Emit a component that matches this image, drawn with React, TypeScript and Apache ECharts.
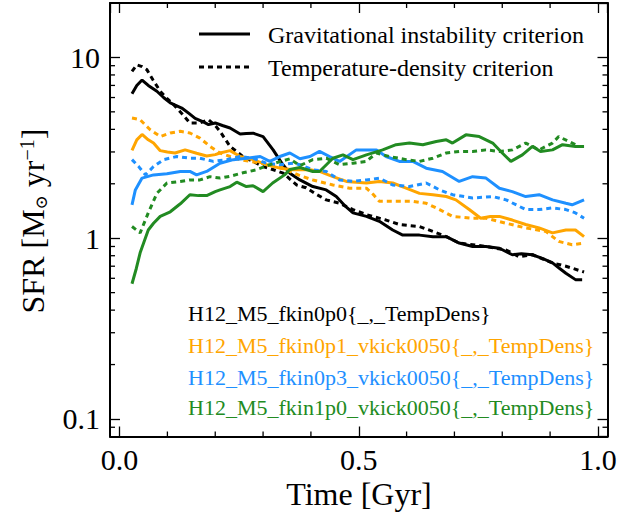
import React, { useEffect, useRef } from "react";
import * as echarts from "echarts";

// ---------- data (time in Gyr, SFR in Msun/yr) ----------
const xTickLabels = ["0.0", "0.5", "1.0"];
const xMajorValues = [0, 0.5, 1.0];
const yTickLabels = ["0.1", "1", "10"];
const xMinorTicks = [0.1, 0.2, 0.3, 0.4, 0.6, 0.7, 0.8, 0.9];
const yMinorTicks = [0.09, 0.2, 0.3, 0.4, 0.5, 0.6, 0.7, 0.8, 0.9, 2, 3, 4, 5, 6, 7, 8, 9];

const runLabels = [
  "H12_M5_fkin0p0{_,_TempDens}",
  "H12_M5_fkin0p1_vkick0050{_,_TempDens}",
  "H12_M5_fkin0p3_vkick0050{_,_TempDens}",
  "H12_M5_fkin1p0_vkick0050{_,_TempDens}",
];
const runColors = ["#000000", "#FFA500", "#1E90FF", "#228B22"];
const legendLabels = ["Gravitational instability criterion", "Temperature-density criterion"];

const fkin0p0Grav: [number, number][] = [
  [0.026, 6.3], [0.036, 7.0], [0.047, 7.5], [0.06, 7.0], [0.078, 6.5], [0.092, 6.0], [0.106, 5.6],
  [0.13, 5.25], [0.145, 4.9], [0.158, 4.6], [0.175, 4.4], [0.186, 4.25], [0.2, 4.34], [0.215, 4.2],
  [0.231, 4.07], [0.252, 3.77], [0.265, 3.8], [0.279, 3.81], [0.3, 3.65], [0.321, 3.08], [0.339, 2.6],
  [0.356, 2.29], [0.377, 2.1], [0.404, 1.93], [0.432, 1.85], [0.453, 1.7], [0.47, 1.52], [0.488, 1.38],
  [0.516, 1.32], [0.543, 1.24], [0.571, 1.11], [0.592, 1.04], [0.627, 1.04], [0.655, 1.02], [0.683, 1.02],
  [0.71, 0.94], [0.738, 0.9], [0.766, 0.9], [0.794, 0.88], [0.821, 0.81], [0.84, 0.82], [0.863, 0.81],
  [0.885, 0.77], [0.905, 0.73], [0.92, 0.68], [0.933, 0.64], [0.953, 0.59], [0.967, 0.59],
];
const fkin0p0Temp: [number, number][] = [
  [0.026, 8.37], [0.036, 9.1], [0.047, 8.9], [0.057, 8.56], [0.07, 7.5], [0.085, 6.5], [0.1, 5.9],
  [0.113, 5.48], [0.13, 4.9], [0.147, 4.34], [0.168, 4.34], [0.186, 4.52], [0.2, 4.2], [0.21, 3.9],
  [0.231, 3.22], [0.258, 2.83], [0.28, 2.65], [0.3, 2.49], [0.32, 2.4], [0.342, 2.29], [0.37, 1.97],
  [0.39, 1.9], [0.411, 1.75], [0.432, 1.63], [0.46, 1.56], [0.488, 1.44], [0.516, 1.35], [0.557, 1.26],
  [0.585, 1.19], [0.627, 1.16], [0.655, 1.09], [0.683, 1.02], [0.71, 0.94], [0.766, 0.9], [0.808, 0.86],
  [0.835, 0.79], [0.863, 0.81], [0.905, 0.73], [0.933, 0.7], [0.971, 0.65],
];
const fkin0p1Grav: [number, number][] = [
  [0.026, 3.06], [0.036, 3.5], [0.047, 3.75], [0.06, 3.5], [0.071, 3.36], [0.085, 3.05], [0.1, 3.0],
  [0.116, 2.96], [0.137, 3.08], [0.161, 2.95], [0.182, 2.85], [0.2, 2.9], [0.21, 2.96], [0.231, 3.05],
  [0.252, 2.83], [0.279, 2.72], [0.307, 2.55], [0.335, 2.44], [0.363, 2.39], [0.398, 2.39], [0.418, 2.34],
  [0.446, 2.19], [0.474, 2.06], [0.516, 2.02], [0.543, 2.06], [0.571, 2.02], [0.599, 1.89], [0.627, 1.77],
  [0.655, 1.74], [0.683, 1.7], [0.703, 1.63], [0.731, 1.44], [0.755, 1.29], [0.775, 1.32], [0.794, 1.32],
  [0.821, 1.26], [0.849, 1.19], [0.877, 1.14], [0.905, 1.07], [0.933, 1.11], [0.953, 1.11], [0.971, 1.02],
];
const fkin0p1Temp: [number, number][] = [
  [0.026, 4.62], [0.043, 4.52], [0.064, 3.98], [0.085, 3.65], [0.106, 3.82], [0.127, 3.9], [0.147, 3.82],
  [0.168, 3.58], [0.189, 3.22], [0.21, 2.96], [0.231, 2.83], [0.252, 2.72], [0.273, 2.66], [0.294, 2.6],
  [0.314, 2.55], [0.335, 2.49], [0.356, 2.34], [0.377, 2.22], [0.404, 2.1], [0.446, 1.97], [0.481, 1.89],
  [0.516, 1.89], [0.53, 1.75], [0.543, 1.6], [0.571, 1.6], [0.613, 1.6], [0.641, 1.56], [0.669, 1.44],
  [0.696, 1.32], [0.738, 1.29], [0.766, 1.29], [0.808, 1.21], [0.849, 1.14], [0.891, 1.09], [0.918, 0.96],
  [0.946, 0.92], [0.971, 0.94],
];
const fkin0p3Grav: [number, number][] = [
  [0.026, 1.53], [0.033, 1.85], [0.047, 2.15], [0.071, 2.24], [0.099, 2.27], [0.127, 2.34], [0.147, 2.34],
  [0.161, 2.24], [0.182, 2.34], [0.21, 2.6], [0.238, 2.72], [0.266, 2.77], [0.294, 2.83], [0.314, 2.66],
  [0.335, 2.83], [0.356, 2.96], [0.377, 2.75], [0.398, 2.83], [0.418, 3.02], [0.439, 2.83], [0.46, 2.66],
  [0.495, 3.08], [0.537, 3.08], [0.557, 2.83], [0.585, 2.66], [0.613, 2.66], [0.641, 2.44], [0.675, 2.34],
  [0.71, 2.06], [0.738, 2.19], [0.766, 2.15], [0.794, 1.89], [0.821, 1.81], [0.849, 1.7], [0.877, 1.74],
  [0.905, 1.63], [0.933, 1.56], [0.946, 1.53], [0.971, 1.63],
];
const fkin0p3Temp: [number, number][] = [
  [0.026, 2.72], [0.04, 2.49], [0.054, 2.24], [0.071, 2.49], [0.092, 2.72], [0.12, 2.83], [0.147, 2.77],
  [0.168, 2.77], [0.196, 2.66], [0.224, 2.72], [0.252, 2.83], [0.279, 2.77], [0.307, 2.6], [0.335, 2.55],
  [0.363, 2.6], [0.377, 2.55], [0.404, 2.39], [0.432, 2.34], [0.46, 2.1], [0.488, 2.06], [0.516, 2.1],
  [0.543, 2.15], [0.571, 1.97], [0.606, 1.93], [0.641, 2.02], [0.669, 1.85], [0.696, 1.74], [0.738, 1.67],
  [0.78, 1.7], [0.808, 1.63], [0.849, 1.44], [0.877, 1.44], [0.905, 1.47], [0.933, 1.44], [0.953, 1.38],
  [0.971, 1.29],
];
const fkin1p0Grav: [number, number][] = [
  [0.026, 0.56], [0.035, 0.68], [0.043, 0.83], [0.06, 1.11], [0.071, 1.21], [0.085, 1.32], [0.106, 1.4],
  [0.127, 1.55], [0.147, 1.74], [0.165, 1.72], [0.182, 1.72], [0.2, 1.81], [0.21, 1.85], [0.231, 1.93],
  [0.245, 2.04], [0.265, 1.93], [0.279, 1.95], [0.3, 1.81], [0.32, 2.02], [0.345, 2.24], [0.356, 2.4],
  [0.377, 2.46], [0.404, 2.34], [0.418, 2.34], [0.446, 2.77], [0.467, 2.89], [0.488, 2.72], [0.516, 2.89],
  [0.55, 3.08], [0.578, 3.29], [0.606, 3.36], [0.634, 3.29], [0.662, 3.43], [0.683, 3.5], [0.696, 3.36],
  [0.724, 3.73], [0.752, 3.65], [0.78, 3.36], [0.8, 2.96], [0.818, 2.66], [0.842, 2.89], [0.863, 3.22],
  [0.88, 3.02], [0.905, 3.08], [0.926, 3.29], [0.953, 3.22], [0.971, 3.22],
];
const fkin1p0Temp: [number, number][] = [
  [0.026, 1.16], [0.043, 1.07], [0.06, 1.38], [0.078, 1.77], [0.099, 2.02], [0.127, 2.06], [0.147, 2.1],
  [0.168, 2.1], [0.189, 2.19], [0.21, 2.15], [0.231, 2.2], [0.258, 2.3], [0.286, 2.39], [0.314, 2.55],
  [0.335, 2.65], [0.356, 2.75], [0.377, 2.52], [0.404, 2.72], [0.432, 2.77], [0.46, 2.55], [0.488, 2.6],
  [0.516, 2.66], [0.537, 2.96], [0.564, 2.83], [0.599, 2.72], [0.627, 2.66], [0.655, 2.77], [0.683, 2.96],
  [0.71, 3.02], [0.738, 3.02], [0.766, 3.08], [0.794, 3.02], [0.821, 3.08], [0.849, 3.36], [0.877, 3.08],
  [0.905, 3.36], [0.918, 3.65], [0.939, 3.43], [0.96, 3.22],
];

const gravRuns = [fkin0p0Grav, fkin0p1Grav, fkin0p3Grav, fkin1p0Grav];
const tempRuns = [fkin0p0Temp, fkin0p1Temp, fkin0p3Temp, fkin1p0Temp];

const FONT = "Liberation Serif";
const DOT: number[] = [5, 4];

export default function App() {
  const ref = useRef<HTMLDivElement>(null);
  useEffect(() => {
    if (!ref.current) return;
    const chart = echarts.init(ref.current, undefined, { renderer: "svg" });

    const xFmt = (v: number) => {
      const i = xMajorValues.findIndex((m) => Math.abs(m - v) < 1e-6);
      return i >= 0 ? xTickLabels[i] : "";
    };
    const yFmt = (v: number) => {
      const e = Math.log10(v);
      const r = Math.round(e);
      if (Math.abs(e - r) > 1e-6) return "";
      return yTickLabels[r + 1] ?? "";
    };

    const lineSeries: any[] = [];
    runColors.forEach((c, i) => {
      lineSeries.push({
        type: "line", data: gravRuns[i], showSymbol: false, symbol: "none",
        lineStyle: { color: c, width: 3, type: "solid" }, itemStyle: { color: c },
        xAxisIndex: 0, yAxisIndex: 0, z: 3, silent: true,
      });
      lineSeries.push({
        type: "line", data: tempRuns[i], showSymbol: false, symbol: "none",
        lineStyle: { color: c, width: 3, type: DOT, cap: "butt" }, itemStyle: { color: c },
        xAxisIndex: 0, yAxisIndex: 0, z: 3, silent: true,
      });
    });

    const tickSeries = {
      type: "custom",
      coordinateSystem: "cartesian2d",
      xAxisIndex: 0, yAxisIndex: 0,
      data: [[0.5, 1]],
      silent: true,
      clip: false,
      z: 5,
      renderItem: (params: any, api: any) => {
        const cs = params.coordSys;
        const left = cs.x, right = cs.x + cs.width, top = cs.y, bottom = cs.y + cs.height;
        const st = { stroke: "#000", lineWidth: 1.3 };
        const children: any[] = [];
        const L = 5;
        xMinorTicks.forEach((t) => {
          const px = api.coord([t, 1])[0];
          children.push({ type: "line", shape: { x1: px, y1: bottom, x2: px, y2: bottom - L }, style: st });
          children.push({ type: "line", shape: { x1: px, y1: top, x2: px, y2: top + L }, style: st });
        });
        yMinorTicks.forEach((v) => {
          const py = api.coord([0.5, v])[1];
          children.push({ type: "line", shape: { x1: left, y1: py, x2: left + L, y2: py }, style: st });
          children.push({ type: "line", shape: { x1: right, y1: py, x2: right - L, y2: py }, style: st });
        });
        return { type: "group", children };
      },
    };

    const axisLine = { show: true, onZero: false, lineStyle: { color: "#000", width: 2 } };
    const axisTick = { show: true, inside: true, length: 10, lineStyle: { color: "#000", width: 1.3 } };

    const legendY = [34, 67];
    const labelY = [313, 345, 377, 407];

    chart.setOption({
      animation: false,
      backgroundColor: "#ffffff",
      grid: { left: 110, top: 3, width: 497.5, height: 433.5, containLabel: false },
      xAxis: [
        {
          type: "value", position: "bottom", min: -0.02, max: 1.02, splitNumber: 2,
          axisLine, axisTick, splitLine: { show: false },
          axisLabel: {
            show: true, formatter: xFmt, margin: 8, color: "#000", fontFamily: FONT, fontSize: 30,
            showMinLabel: false, showMaxLabel: false,
          },
        },
        {
          type: "value", position: "top", min: -0.02, max: 1.02, splitNumber: 2,
          axisLine, axisTick, splitLine: { show: false }, axisLabel: { show: false },
        },
      ],
      yAxis: [
        {
          type: "log", logBase: 10, position: "left", min: 0.08, max: 20,
          axisLine, axisTick, splitLine: { show: false },
          axisLabel: {
            show: true, formatter: yFmt, margin: 10, color: "#000", fontFamily: FONT, fontSize: 30,
            showMinLabel: false, showMaxLabel: false,
          },
        },
        {
          type: "log", logBase: 10, position: "right", min: 0.08, max: 20,
          axisLine, axisTick, splitLine: { show: false }, axisLabel: { show: false },
        },
      ],
      series: [...lineSeries, tickSeries],
      graphic: [
        {
          type: "line", shape: { x1: 199, y1: legendY[0], x2: 250, y2: legendY[0] },
          style: { stroke: "#000", lineWidth: 3 },
        },
        {
          type: "line", shape: { x1: 199, y1: legendY[1], x2: 250, y2: legendY[1] },
          style: { stroke: "#000", lineWidth: 3, lineDash: DOT },
        },
        ...legendLabels.map((t, i) => ({
          type: "text", x: 268, y: legendY[i] + 1,
          style: {
            text: t, fill: "#000", fontFamily: FONT, fontSize: 24,
            align: "left", verticalAlign: "middle",
          },
        })),
        ...runLabels.map((t, i) => ({
          type: "text", x: 188, y: labelY[i],
          style: {
            text: t, fill: runColors[i], fontFamily: FONT, fontSize: 22,
            align: "left", verticalAlign: "middle",
          },
        })),
        {
          type: "text", x: 359, y: 494,
          style: {
            text: "Time [Gyr]", fill: "#000", fontFamily: FONT, fontSize: 32,
            align: "center", verticalAlign: "middle",
          },
        },
        {
          type: "text", x: 33, y: 221, rotation: Math.PI / 2,
          style: {
            text: "{a|SFR [M}{b|⊙}{a| yr}{c|−1}{a|]}",
            align: "center", verticalAlign: "middle", fill: "#000",
            fontFamily: FONT, fontSize: 32,
            rich: {
              a: { fontFamily: FONT, fontSize: 32, fill: "#000", color: "#000" },
              b: { fontFamily: "DejaVu Serif", fontSize: 17, fill: "#000", color: "#000", verticalAlign: "bottom" },
              c: { fontFamily: FONT, fontSize: 20, fill: "#000", color: "#000", verticalAlign: "top" },
            },
          },
        },
      ],
    });

    return () => chart.dispose();
  }, []);

  return (
    <div
      ref={ref}
      style={{ position: "fixed", left: 0, top: 0, width: 639, height: 518, background: "#fff" }}
    />
  );
}
